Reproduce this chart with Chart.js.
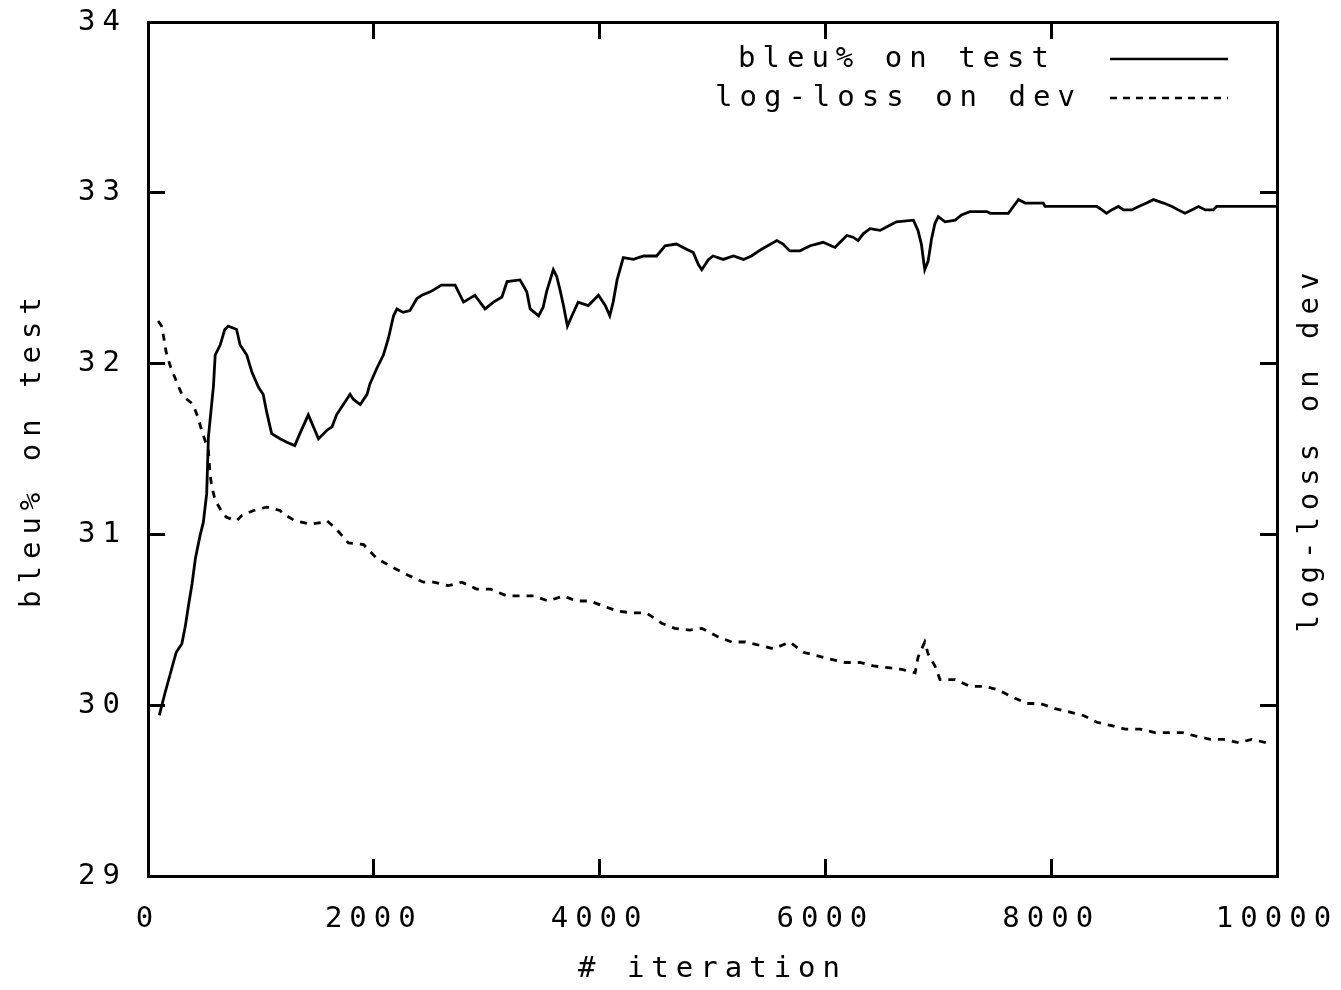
<!DOCTYPE html>
<html>
<head>
<meta charset="utf-8">
<title>bleu% / log-loss vs iteration</title>
<script src="https://cdn.jsdelivr.net/npm/chart.js@4/dist/chart.umd.min.js"></script>
<style>
  html, body { margin: 0; padding: 0; background: #fff; }
  #wrap { width: 1341px; height: 990px; }
</style>
</head>
<body>
<div id="wrap"><canvas id="chart" width="1341" height="990"></canvas></div>
<script>
// values
const bleuIter = [100, 150, 200, 250, 300, 330, 360, 390, 420, 460, 490, 520, 535, 580, 595, 640, 680, 710, 785, 815,
  875, 920, 980, 1020, 1050, 1095, 1170, 1230, 1300, 1345, 1420, 1465, 1510, 1585, 1630, 1670, 1730, 1790, 1820, 1880,
  1940, 1965, 2025, 2085, 2130, 2175, 2205, 2260, 2320, 2380, 2425, 2500, 2600, 2720, 2795, 2895, 2985, 3060, 3135, 3180,
  3295, 3355, 3385, 3460, 3500, 3530, 3590, 3620, 3650, 3680, 3715, 3755, 3810, 3900, 3990, 4050, 4090, 4120, 4155, 4210,
  4300, 4390, 4505, 4580, 4680, 4770, 4830, 4875, 4905, 4965, 5005, 5095, 5185, 5275, 5345, 5435, 5570, 5625, 5685, 5775,
  5865, 5920, 5980, 6085, 6130, 6190, 6245, 6290, 6335, 6395, 6485, 6570, 6630, 6780, 6820, 6850, 6880, 6910, 6940, 6970,
  7000, 7060, 7150, 7205, 7280, 7430, 7460, 7620, 7665, 7710, 7770, 7930, 7945, 8405, 8450, 8490, 8535, 8595, 8640, 8715,
  8775, 8845, 8905, 8995, 9070, 9125, 9185, 9245, 9305, 9365, 9435, 9465, 10000];
const bleuScore = [29.94, 30.07, 30.19, 30.31, 30.36, 30.46, 30.59, 30.71, 30.86, 30.99, 31.07, 31.24, 31.57, 31.87, 32.05, 32.11, 32.20, 32.22, 32.20, 32.11,
  32.05, 31.95, 31.86, 31.82, 31.72, 31.59, 31.56, 31.54, 31.52, 31.59, 31.70, 31.63, 31.56, 31.61, 31.63, 31.70, 31.76, 31.82, 31.79, 31.76,
  31.82, 31.88, 31.97, 32.05, 32.15, 32.28, 32.32, 32.30, 32.31, 32.38, 32.40, 32.42, 32.46, 32.46, 32.36, 32.40, 32.32, 32.36, 32.39, 32.48,
  32.49, 32.42, 32.32, 32.28, 32.33, 32.42, 32.55, 32.51, 32.43, 32.34, 32.22, 32.28, 32.36, 32.34, 32.40, 32.34, 32.28, 32.36, 32.49, 32.62,
  32.61, 32.63, 32.63, 32.69, 32.70, 32.67, 32.65, 32.58, 32.55, 32.61, 32.63, 32.61, 32.63, 32.61, 32.63, 32.67, 32.72, 32.70, 32.66, 32.66,
  32.69, 32.70, 32.71, 32.68, 32.71, 32.75, 32.74, 32.72, 32.76, 32.79, 32.78, 32.81, 32.83, 32.84, 32.78, 32.70, 32.55, 32.60, 32.73, 32.82,
  32.86, 32.83, 32.84, 32.87, 32.89, 32.89, 32.88, 32.88, 32.92, 32.96, 32.94, 32.94, 32.92, 32.92, 32.90, 32.88, 32.90, 32.92, 32.90, 32.90,
  32.92, 32.94, 32.96, 32.94, 32.92, 32.90, 32.88, 32.90, 32.92, 32.90, 32.90, 32.92, 32.92];

// log-loss has no tick labels in the original, so it is kept in the left axis' units
const lossIter = [90, 120, 140, 160, 195, 255, 300, 330, 400, 445, 475, 515, 535, 550, 565, 595, 665, 695, 785, 830,
  935, 1050, 1170, 1200, 1300, 1435, 1540, 1585, 1670, 1775, 1910, 2025, 2160, 2275, 2440, 2530, 2660, 2780, 2910, 3030,
  3180, 3300, 3415, 3545, 3680, 3795, 3915, 4035, 4165, 4300, 4415, 4550, 4665, 4800, 4905, 5050, 5170, 5290, 5420, 5540,
  5685, 5805, 5920, 6040, 6175, 6305, 6425, 6555, 6675, 6795, 6820, 6880, 6910, 6970, 7015, 7150, 7280, 7415, 7530, 7650,
  7785, 7900, 8035, 8165, 8285, 8405, 8535, 8655, 8790, 8920, 9040, 9160, 9275, 9410, 9540, 9660, 9775, 9910, 9950];
const lossValue = [32.25, 32.22, 32.15, 32.07, 31.99, 31.89, 31.82, 31.80, 31.76, 31.68, 31.61, 31.53, 31.49, 31.35, 31.28, 31.20, 31.12, 31.10, 31.08, 31.11,
  31.14, 31.16, 31.14, 31.12, 31.08, 31.06, 31.07, 31.08, 31.03, 30.95, 30.94, 30.86, 30.81, 30.77, 30.72, 30.72, 30.70, 30.72, 30.68, 30.68,
  30.64, 30.64, 30.64, 30.61, 30.64, 30.61, 30.61, 30.58, 30.55, 30.54, 30.54, 30.48, 30.45, 30.44, 30.45, 30.40, 30.37, 30.37, 30.35, 30.33,
  30.37, 30.31, 30.29, 30.27, 30.25, 30.25, 30.23, 30.22, 30.21, 30.19, 30.28, 30.37, 30.30, 30.23, 30.15, 30.15, 30.11, 30.11, 30.09, 30.05,
  30.01, 30.01, 29.98, 29.96, 29.94, 29.90, 29.88, 29.86, 29.86, 29.84, 29.84, 29.84, 29.82, 29.80, 29.80, 29.78, 29.80, 29.78, 29.77];

const xTicks = [0, 2000, 4000, 6000, 8000, 10000];
const yTicks = [29, 30, 31, 32, 33, 34];
const seriesNames = ["bleu% on test", "log-loss on dev"];
const xTitle = "# iteration";
const yTitle = "bleu% on test";
const y2Title = "log-loss on dev";

const FONT = "DejaVu Sans Mono";
const SPACING = "7px"; // gnuplot's wide character cells

const toPoints = (xs, ys) => xs.map((x, i) => ({ x, y: ys[i] }));

// ticks point into the plot, like gnuplot
const frameGrid = { drawOnChartArea: false, drawTicks: true, tickLength: -17, color: "#000", lineWidth: 3 };
const frameBorder = { display: true, color: "#000", width: 3 };

// fixed box sizes; drop the label overhang padding so the frame sits where gnuplot put it
const fixSize = (w, h) => s => {
  if (w !== null) s.width = w;
  if (h !== null) s.height = h;
  s.paddingLeft = s.paddingRight = s.paddingTop = s.paddingBottom = 0;
};

const gnuplotText = {
  id: "gnuplotText",
  beforeDraw(chart) {
    chart.ctx.letterSpacing = SPACING;
  },
  afterDraw(chart) {
    const ctx = chart.ctx;
    const area = chart.chartArea;
    ctx.save();
    ctx.letterSpacing = SPACING;
    ctx.font = `29px "${FONT}"`;
    ctx.fillStyle = "#000";
    ctx.strokeStyle = "#000";
    ctx.textBaseline = "middle";
    ctx.textAlign = "left";

    // key, top right inside the frame: text then line sample
    const rows = [
      { y: 59, textX: 738, dash: [] },
      { y: 98, textX: 715, dash: [7, 6] }
    ];
    rows.forEach((r, i) => {
      ctx.fillText(seriesNames[i], r.textX, r.y);
      ctx.beginPath();
      ctx.setLineDash(r.dash);
      ctx.lineWidth = 2.5;
      ctx.moveTo(area.right - 167, r.y);
      ctx.lineTo(area.right - 49, r.y);
      ctx.stroke();
    });
    ctx.setLineDash([]);

    // right axis title reads bottom to top
    ctx.translate(area.right + 33, (area.top + area.bottom) / 2);
    ctx.rotate(-Math.PI / 2);
    ctx.textAlign = "center";
    ctx.fillText(y2Title, 0, 0);
    ctx.restore();
  }
};

new Chart(document.getElementById("chart"), {
  type: "line",
  data: {
    datasets: [
      {
        label: seriesNames[0],
        data: toPoints(bleuIter, bleuScore),
        borderColor: "#000",
        borderWidth: 2.8,
        pointRadius: 0,
        tension: 0,
        yAxisID: "y",
        xAxisID: "x"
      },
      {
        label: seriesNames[1],
        data: toPoints(lossIter, lossValue),
        borderColor: "#000",
        borderWidth: 2.8,
        borderDash: [7, 7],
        pointRadius: 0,
        tension: 0,
        yAxisID: "y2",
        xAxisID: "x"
      }
    ]
  },
  options: {
    responsive: false,
    animation: false,
    events: [],
    layout: { padding: 0 },
    plugins: { legend: { display: false }, tooltip: { enabled: false } },
    font: { family: FONT, size: 29 },
    scales: {
      x: {
        type: "linear", position: "bottom", min: 0, max: 10000,
        afterBuildTicks: s => { s.ticks = xTicks.map(v => ({ value: v })); },
        afterFit: fixSize(null, 114),
        grid: frameGrid, border: frameBorder,
        ticks: {
          color: "#000", font: { family: FONT, size: 29 }, padding: 43,
          autoSkip: false, maxRotation: 0, minRotation: 0,
          callback: v => String(v)
        },
        title: { display: true, text: xTitle, color: "#000", font: { family: FONT, size: 29 }, padding: { top: 0, bottom: 3 } }
      },
      xTop: {
        type: "linear", position: "top", min: 0, max: 10000,
        afterBuildTicks: s => { s.ticks = xTicks.map(v => ({ value: v })); },
        afterFit: fixSize(null, 22),
        grid: frameGrid, border: frameBorder,
        ticks: { display: false }
      },
      y: {
        type: "linear", position: "left", min: 29, max: 34,
        afterBuildTicks: s => { s.ticks = yTicks.map(v => ({ value: v })); },
        afterFit: fixSize(148, null),
        grid: frameGrid, border: frameBorder,
        ticks: { color: "#000", font: { family: FONT, size: 29 }, padding: 38, callback: v => String(v) },
        title: { display: true, text: yTitle, color: "#000", font: { family: FONT, size: 29 }, padding: { top: 15, bottom: 0 } }
      },
      y2: {
        type: "linear", position: "right", min: 29, max: 34,
        afterBuildTicks: s => { s.ticks = yTicks.map(v => ({ value: v })); },
        afterFit: fixSize(64, null),
        grid: frameGrid, border: frameBorder,
        ticks: { display: false }
      }
    }
  },
  plugins: [gnuplotText]
});
</script>
</body>
</html>
